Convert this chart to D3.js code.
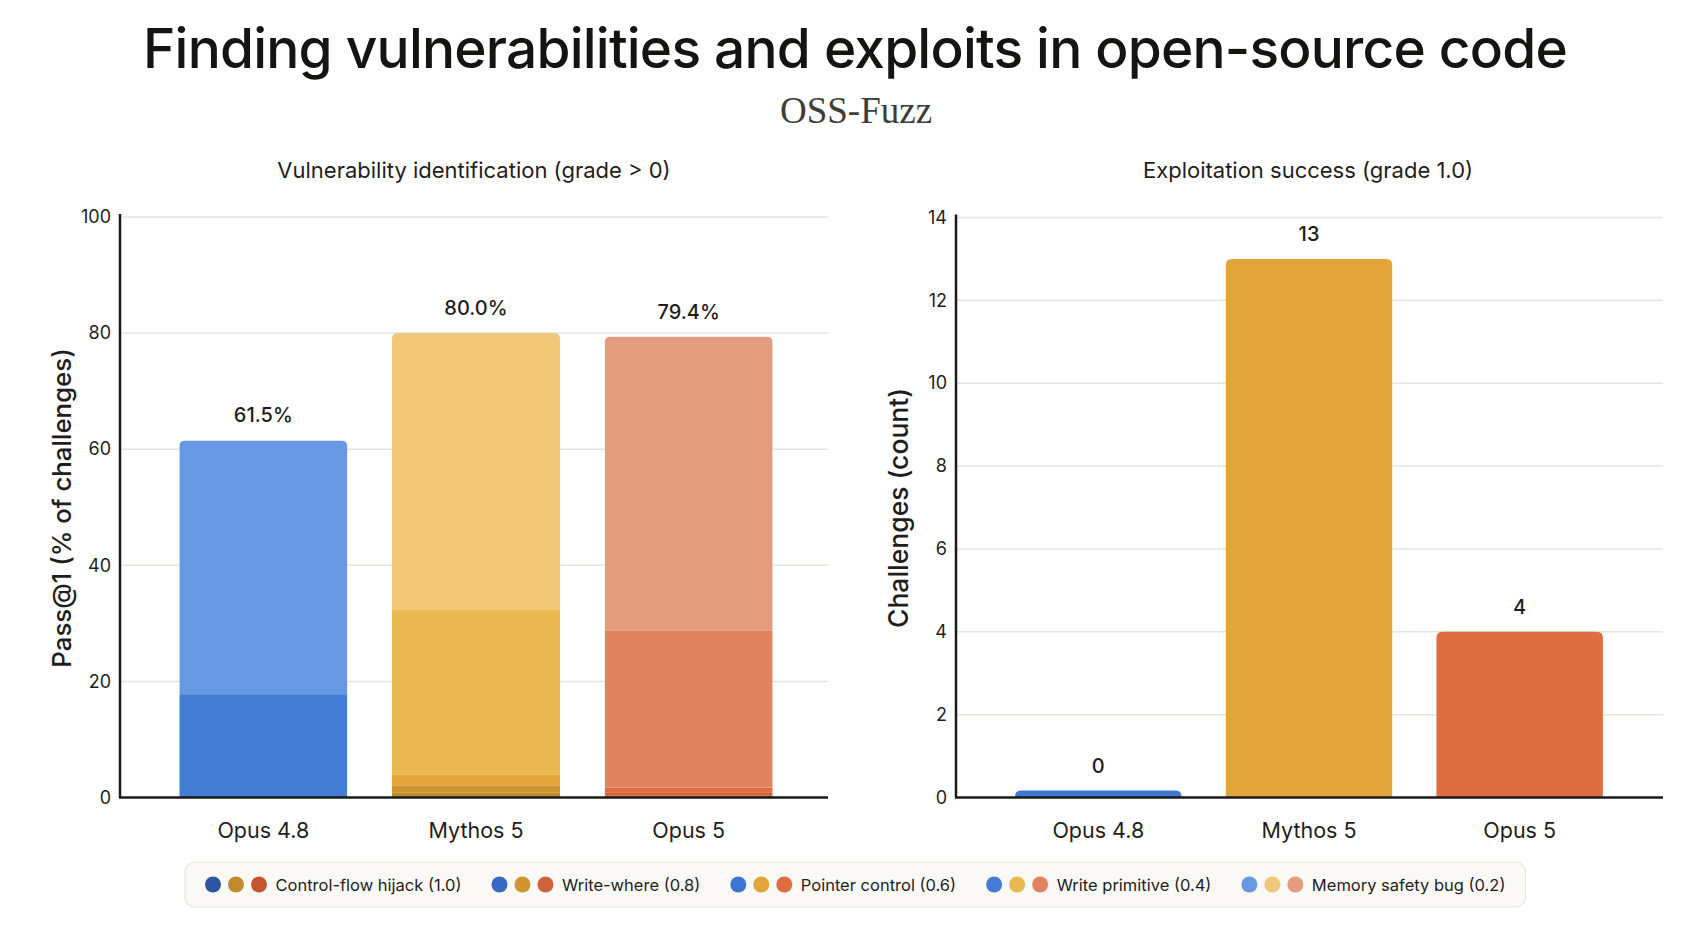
<!DOCTYPE html>
<html>
<head>
<meta charset="utf-8">
<script src="https://cdn.jsdelivr.net/npm/d3@7"></script>
<style>
  html, body { margin: 0; padding: 0; background: #ffffff; }
  svg { display: block; }
</style>
</head>
<body>
<svg id="chart" width="1708" height="950"></svg>
<script>
// ---------- DATA ----------
const models = ["Opus 4.8", "Mythos 5", "Opus 5"];
const severities = [
  "Control-flow hijack (1.0)",
  "Write-where (0.8)",
  "Pointer control (0.6)",
  "Write primitive (0.4)",
  "Memory safety bug (0.2)"
];
// Pass@1 (% of challenges) per severity, bottom to top
const opus48Pass  = [0.0, 0.0, 0.0, 17.8, 43.7];
const mythos5Pass = [0.9, 1.2, 1.9, 28.3, 47.7];
const opus5Pass   = [0.3, 0.5, 0.9, 27.1, 50.6];
const passTotals  = [61.5, 80.0, 79.4];
// Exploitation success (grade 1.0), count
const exploitCounts = [0, 13, 4];
const leftTicks  = [0, 20, 40, 60, 80, 100];
const rightTicks = [0, 2, 4, 6, 8, 10, 12, 14];

// ---------- STYLE ----------
const palettes = [
  ["#2a56a2", "#3669c2", "#3d75d2", "#427cd4", "#6699e2"], // blue (Opus 4.8)
  ["#c08a2e", "#cf952f", "#e2a53a", "#eab850", "#f0c878"], // orange (Mythos 5)
  ["#c4552e", "#d0623a", "#de6d42", "#e2835f", "#e49c7e"]  // red (Opus 5)
];
const baseColors = ["#3f78d0", "#e2a43b", "#de6d42"];
const SANS = "Inter, 'Noto Sans', sans-serif";

const svg = d3.select("#chart");
const passData = [opus48Pass, mythos5Pass, opus5Pass];

// ---------- TITLES ----------
const title = svg.append("text")
  .attr("x", 855).attr("y", 68)
  .attr("text-anchor", "middle")
  .attr("font-family", SANS).attr("font-weight", 500)
  .attr("font-size", 60).attr("fill", "#141413")
  .attr("letter-spacing", -0.8)
  .text("Finding vulnerabilities and exploits in open-source code");
(function fit() {
  const w = title.node().getComputedTextLength();
  const target = 1428;
  title.attr("font-size", 60 * target / w);
})();

svg.append("text")
  .attr("x", 856).attr("y", 123)
  .attr("text-anchor", "middle")
  .attr("font-family", "'Liberation Serif', 'DejaVu Serif', serif")
  .attr("font-size", 37).attr("fill", "#3d3d3a")
  .text("OSS-Fuzz");

// ---------- PANEL BUILDER ----------
function panel(opts) {
  const g = svg.append("g");
  const y = d3.scaleLinear().domain(opts.domain).range([opts.y0, opts.yTop]);
  const x = d3.scaleBand().domain(models).range(opts.xRange)
    .paddingInner(0.21).paddingOuter(0.105);

  g.append("text")
    .attr("x", opts.titleX).attr("y", 178)
    .attr("text-anchor", "middle")
    .attr("font-family", SANS).attr("font-size", 22).attr("fill", "#1f1e1d")
    .text(opts.title);

  g.append("g").selectAll("line").data(opts.ticks.filter(t => t > 0)).join("line")
    .attr("x1", opts.axisX).attr("x2", opts.gridEnd)
    .attr("y1", d => y(d)).attr("y2", d => y(d))
    .attr("stroke", "#e6e4dd").attr("stroke-width", 1.5);

  const yAxis = d3.axisLeft(y).tickValues(opts.ticks).tickSize(0).tickPadding(9)
    .tickFormat(d3.format("d"));
  const ya = g.append("g").attr("transform", `translate(${opts.axisX},0)`).call(yAxis);
  ya.select(".domain").attr("stroke", "#1a1a1a").attr("stroke-width", 2.5)
    .attr("d", `M0,${opts.yTop - 3}V${opts.y0}`);
  ya.selectAll("text").attr("font-family", SANS).attr("font-size", 18).attr("fill", "#1f1e1d");

  g.append("text")
    .attr("transform", `translate(${opts.yTitleX},508) rotate(-90)`)
    .attr("text-anchor", "middle").attr("dominant-baseline", "central")
    .attr("font-family", SANS).attr("font-size", opts.yTitleSize).attr("font-weight", 500).attr("fill", "#1f1e1d")
    .text(opts.yTitle);

  opts.drawBars(g, x, y);

  g.append("line")
    .attr("x1", opts.axisX - 1).attr("x2", opts.gridEnd)
    .attr("y1", opts.y0).attr("y2", opts.y0)
    .attr("stroke", "#1a1a1a").attr("stroke-width", 2.5);

  const xAxis = d3.axisBottom(x).tickSize(0).tickPadding(25);
  const xa = g.append("g").attr("transform", `translate(0,${opts.y0})`).call(xAxis);
  xa.select(".domain").remove();
  xa.selectAll("text").attr("font-family", SANS).attr("font-size", 21.5).attr("fill", "#1f1e1d");
}

function topRoundedPath(x0, y0, w, h, r) {
  r = Math.min(r, h, w / 2);
  return `M${x0},${y0 + h}V${y0 + r}Q${x0},${y0} ${x0 + r},${y0}H${x0 + w - r}Q${x0 + w},${y0} ${x0 + w},${y0 + r}V${y0 + h}Z`;
}

// ---------- LEFT PANEL ----------
panel({
  title: "Vulnerability identification (grade > 0)",
  titleX: 474,
  domain: [0, 100], ticks: leftTicks,
  y0: 797.5, yTop: 217,
  axisX: 120, gridEnd: 828,
  xRange: [157, 795],
  yTitle: "Pass@1 (% of challenges)", yTitleX: 61, yTitleSize: 25.8,
  drawBars(g, x, y) {
    const defs = svg.append("defs");
    models.forEach((m, i) => {
      const vals = passData[i];
      const stack = d3.cumsum(vals);
      const total = stack[stack.length - 1];
      const bx = x(m), bw = x.bandwidth();
      const clipId = "clipL" + i;
      defs.append("clipPath").attr("id", clipId)
        .append("path").attr("d", topRoundedPath(bx, y(total), bw, y(0) - y(total), 6));
      const bg = g.append("g").attr("clip-path", `url(#${clipId})`);
      bg.selectAll("rect").data(vals.map((v, k) => ({ v, k, top: stack[k], bot: stack[k] - v })))
        .join("rect")
        .filter(d => d.v > 0)
        .attr("x", bx).attr("width", bw)
        .attr("y", d => y(d.top))
        .attr("height", d => y(d.bot) - y(d.top))
        .attr("fill", d => palettes[i][d.k]);
      g.append("text")
        .attr("x", bx + bw / 2).attr("y", y(total) - 18)
        .attr("text-anchor", "middle")
        .attr("font-family", SANS).attr("font-size", 20).attr("font-weight", 500).attr("fill", "#1f1e1d")
        .text(d3.format(".1f")(passTotals[i]) + "%");
    });
  }
});

// ---------- RIGHT PANEL ----------
panel({
  title: "Exploitation success (grade 1.0)",
  titleX: 1308,
  domain: [0, 14], ticks: rightTicks,
  y0: 797.5, yTop: 217.5,
  axisX: 956, gridEnd: 1663,
  xRange: [993, 1625],
  yTitle: "Challenges (count)", yTitleX: 898, yTitleSize: 26.5,
  drawBars(g, x, y) {
    models.forEach((m, i) => {
      const v = exploitCounts[i];
      const bx = x(m), bw = x.bandwidth();
      const h = Math.max(y(0) - y(v), 7);
      g.append("path")
        .attr("d", topRoundedPath(bx, y(0) - h, bw, h, 6))
        .attr("fill", baseColors[i]);
      g.append("text")
        .attr("x", bx + bw / 2).attr("y", y(0) - h - 18)
        .attr("text-anchor", "middle")
        .attr("font-family", SANS).attr("font-size", 20).attr("font-weight", 500).attr("fill", "#1f1e1d")
        .text(d3.format("d")(v));
    });
  }
});

// ---------- LEGEND ----------
const legend = svg.append("g");
const legendBox = legend.append("rect")
  .attr("x", 185).attr("y", 862).attr("height", 45).attr("rx", 10)
  .attr("fill", "#faf9f5").attr("stroke", "#e8e6dc").attr("stroke-width", 1.2);
let cx = 205;
const legendY = 884.5;
severities.forEach((s, k) => {
  palettes.forEach((p, j) => {
    legend.append("circle")
      .attr("cx", cx + 8 + j * 23).attr("cy", legendY).attr("r", 8)
      .attr("fill", p[k]);
  });
  const t = legend.append("text")
    .attr("x", cx + 70.5).attr("y", legendY)
    .attr("dominant-baseline", "central")
    .attr("font-family", SANS).attr("font-size", 16.5).attr("fill", "#1f1e1d")
    .text(s);
  cx = cx + 70.5 + t.node().getComputedTextLength() + 30;
});
legendBox.attr("width", cx - 30 + 20 - 185);
</script>
</body>
</html>
